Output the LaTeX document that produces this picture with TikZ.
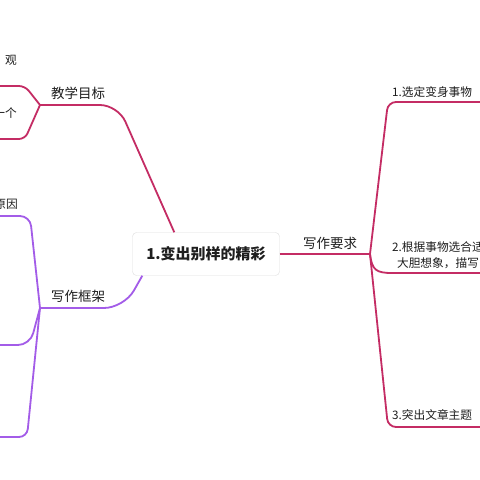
\documentclass[tikz,border=0pt]{standalone}
\usepackage{fontspec}
\setmainfont{Noto Sans CJK SC}
\definecolor{rosebranch}{RGB}{196,44,100}
\definecolor{violetbranch}{RGB}{163,92,232}
\definecolor{inkgray}{RGB}{30,30,30}
\tikzset{
  rootbox/.style={draw=black!13, fill=white, rounded corners=4pt, minimum width=147pt, minimum height=43pt, font=\fontsize{15}{18}\selectfont\bfseries, text=inkgray},
  branchlabel/.style={font=\fontsize{13.5}{16}\selectfont, text=inkgray, inner sep=0pt},
  leaflabel/.style={font=\fontsize{11.7}{16}\selectfont, text=inkgray, inner sep=0pt},
  roseline/.style={draw=rosebranch, line width=1.8pt},
  violetline/.style={draw=violetbranch, line width=1.8pt},
}
\begin{document}
\begin{tikzpicture}[x=1pt, y=-1pt]
            \useasboundingbox (0,0) rectangle (480,480);
            \clip (0,0) rectangle (480,480);
            \fill[white] (0,0) rectangle (480,480);

            \node[rootbox] (root) at (206, 254) { 1.变出别样的精彩 };

            \node[branchlabel] (goal) at (78, 93) { 教学目标 };
            \node[branchlabel] (frame) at (78, 296) { 写作框架 };
            \node[branchlabel] (req) at (330, 243) { 写作要求 };

            \coordinate (jg) at (40, 105);
            \coordinate (jf) at (40, 308);
            \coordinate (jr) at (370, 254);

            \node[leaflabel, anchor=east] (g1) at (17, 60) { 观 };
            \node[leaflabel, anchor=east] (g2) at (17, 113) { 一个 };
            \node[leaflabel, anchor=east] (f1) at (18, 204) { 原因 };

            \node[leaflabel, anchor=west] (r1) at (392, 92) { 1.选定变身事物 };
            \node[leaflabel, anchor=west, align=center] (r2) at (392, 255) { 2.根据事物选合适\\大胆想象，描写 };
            \node[leaflabel, anchor=west] (r3) at (392, 415) { 3.突出文章主题 };

            \coordinate (g1end) at (-5, 86);
            \coordinate (g2end) at (-5, 139);
            \coordinate (f1end) at (-5, 216);
            \coordinate (f2end) at (-5, 345);
            \coordinate (f3end) at (-5, 437);
            \coordinate (r1end) at (485, 102);
            \coordinate (r2end) at (485, 273);
            \coordinate (r3end) at (485, 427);

            \draw[roseline, rounded corners=18pt] ([xshift=42pt]root.north west) -- (118, 105) -- (jg);
            \draw[violetline, rounded corners=20pt] ([xshift=10pt]root.south west) -- (124, 308) -- (jf);
            \draw[roseline] (root.east) -- (jr);

            \draw[roseline, rounded corners=6pt] (jg) -- (25, 86) -- (g1end);
            \draw[roseline, rounded corners=6pt] (jg) -- (25, 139) -- (g2end);

            \draw[violetline, rounded corners=10pt] (jf) -- (30, 216) -- (f1end);
            \draw[violetline, rounded corners=12pt] (jf) -- (30, 345) -- (f2end);
            \draw[violetline, rounded corners=8pt] (jf) -- (27, 437) -- (f3end);

            \draw[roseline, rounded corners=8pt] (jr) -- (388, 102) -- (r1end);
            \draw[roseline] (jr) .. controls (372, 270) and (376, 273) .. (392, 273) -- (r2end);
            \draw[roseline, rounded corners=8pt] (jr) -- (388, 427) -- (r3end);
        \end{tikzpicture}
\end{document}
